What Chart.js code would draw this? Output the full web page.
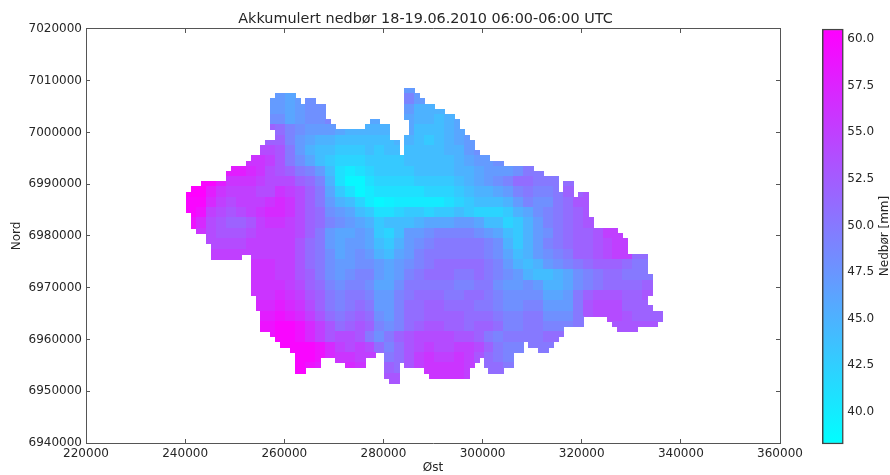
<!DOCTYPE html>
<html lang="en">

<head>
    <meta charset="UTF-8">
    <title>Akkumulert nedbør</title>
    <style>
        body { margin: 0; background: #fff; }
        canvas { position: absolute; top: 0; }
    </style>
</head>

<body>
    <canvas id="map" width="890" height="475" style="left:0"></canvas>
    <canvas id="bar" width="110" height="475" style="left:780px"></canvas>

    <script src="https://cdnjs.cloudflare.com/ajax/libs/Chart.js/4.4.1/chart.umd.js"></script>
    <script>
        const titleText = 'Akkumulert nedbør 18-19.06.2010 06:00-06:00 UTC';
        const xTitle = 'Øst';
        const yTitle = 'Nord';
        const barTitle = 'Nedbør [mm]';
        const barTicks = [40, 42.5, 45, 47.5, 50, 52.5, 55, 57.5, 60];
        const valueMin = 38.27;
        const valueMax = 60.54;

        // catchment outline: north km -> runs of east km [first, last, first, last...]
        const outlineNorth = [7008, 7007, 7006, 7005, 7004, 7003, 7002, 7001, 7000, 6999, 6998, 6997, 6996, 6995, 6994, 6993, 6992, 6991, 6990, 6989, 6988, 6987, 6986, 6985, 6984, 6983, 6982, 6981, 6980, 6979, 6978, 6977, 6976, 6975, 6974, 6973, 6972, 6971, 6970, 6969, 6968, 6967, 6966, 6965, 6964, 6963, 6962, 6961, 6960, 6959, 6958, 6957, 6956, 6955, 6954, 6953, 6952];
        const outlineRuns = [
            [284, 285],
            [258, 261, 284, 286],
            [257, 262, 264, 265, 284, 287],
            [257, 267, 284, 289],
            [257, 267, 284, 291],
            [257, 267, 284, 293],
            [257, 268, 277, 278, 285, 294],
            [257, 269, 276, 280, 285, 294],
            [258, 280, 285, 295],
            [258, 280, 284, 296],
            [256, 282, 284, 297],
            [255, 282, 284, 297],
            [255, 282, 284, 298],
            [253, 300],
            [252, 303],
            [249, 309],
            [248, 311],
            [248, 314],
            [243, 314, 316, 317],
            [241, 314, 316, 317],
            [240, 317, 319, 320],
            [240, 320],
            [240, 320],
            [240, 320],
            [241, 320],
            [241, 321],
            [241, 321],
            [242, 326],
            [244, 327],
            [244, 328],
            [245, 328],
            [245, 328],
            [245, 250, 253, 332],
            [253, 332],
            [253, 332],
            [253, 332],
            [253, 333],
            [253, 333],
            [253, 333],
            [253, 333],
            [254, 332],
            [254, 332],
            [254, 333],
            [255, 335],
            [255, 319, 325, 335],
            [255, 319, 326, 334],
            [255, 315, 327, 330],
            [257, 315],
            [258, 314],
            [259, 307, 309, 313],
            [261, 307, 311, 312],
            [262, 277, 280, 305],
            [262, 266, 270, 275, 280, 298, 300, 305],
            [262, 266, 272, 275, 280, 282, 284, 297, 300, 305],
            [262, 263, 280, 282, 288, 296, 301, 303],
            [280, 282, 289, 296],
            [281, 282]
        ];

        // rainfall in mm read per 2 km block; each row covers north km n and n+1
        const blockNorth = [7008, 7006, 7004, 7002, 7000, 6998, 6996, 6994, 6992, 6990, 6988, 6986, 6984, 6982, 6980, 6978, 6976, 6974, 6972, 6970, 6968, 6966, 6964, 6962, 6960, 6958, 6956, 6954, 6952];
        const blockFirstEast = [284, 256, 256, 256, 256, 256, 254, 252, 248, 242, 240, 240, 240, 240, 242, 244, 244, 252, 252, 252, 252, 254, 254, 254, 256, 258, 262, 262, 280];
        const blockRain = [
            [47, 47],
            [47, 47, 46, 47, 48, 48, null, null, null, null, null, null, null, null, 49, 47],
            [47, 47, 46, 47, 48, 48, null, null, null, null, null, null, null, null, 47, 45, 45, 45],
            [48, 48, 46, 47, 48, 48, 49, null, null, null, 46, 46, null, null, 46, 45, 45, 44, 45, 46],
            [52, 51, 49, 48, 47, 47, 47, 46, 45, 45, 45, 45, 45, null, 46, 44, 44, 44, 45, 46],
            [52, 52, 49, 47, 46, 45, 45, 44, 44, 44, 44, 44, 44, 45, 45, 44, 43, 44, 45, 46, 47],
            [54, 54, 53, 50, 47, 45, 44, 44, 43, 43, 43, 44, 43, 44, 44, 44, 44, 44, 44, 45, 45, 47, 48],
            [56, 56, 55, 53, 50, 48, 46, 44, 43, 42, 42, 42, 43, 43, 43, 43, 44, 44, 44, 44, 44, 45, 46, 47, 47, 48],
            [58, 58, 57, 56, 54, 53, 52, 50, 49, 47, 44, 41, 40, 41, 42, 43, 43, 43, 43, 44, 44, 44, 44, 45, 45, 46, 47, 47, 47, 48, 50, 50],
            [60, 60, 58, 56, 56, 56, 55, 54, 54, 54, 52, 51, 49, 45, 41, 39, 39, 41, 42, 42, 42, 42, 43, 43, 43, 43, 44, 45, 46, 47, 48, 49, 51, 51, 50, 50, 50, 51],
            [60.5, 60.5, 58, 56, 55, 55, 55, 54, 54, 56, 55, 54, 52, 50, 46, 43, 41, 39, 40, 41, 41, 41, 41, 41, 42, 42, 42, 43, 44, 45, 45, 46, 47, 49, 50, 49, 49, 50, 52, 52, 53],
            [60, 60, 57, 55, 54, 55, 55, 55, 56, 57, 56, 54, 52, 50, 47, 45, 44, 42, 40, 39, 39.5, 40, 40, 40, 40, 40, 41, 42, 43, 44, 44, 44, 45, 47, 49, 48, 48, 50, 51, 53, 53],
            [60, 59, 55, 54, 53, 54, 55, 56, 57, 57, 56, 54, 52, 51, 48, 47, 46, 44, 43, 41, 41, 42, 43, 43, 42, 43, 43, 44, 43, 42, 42, 42, 43, 45, 46, 48, 49, 50, 51, 52, 53],
            [59, 57, 54, 53, 52, 52, 53, 55, 56, 56, 55, 54, 52, 51, 49, 48, 47, 46, 45, 43, 44, 44, 44, 45, 46, 46, 46, 47, 47, 46, 44, 44, 42, 43, 45, 47, 49, 50, 51, 52, 53],
            [56, 54, 53, 53, 53, 54, 55, 55, 55, 55, 54, 52, 50, 47, 46, 46, 47, 46, 43, 42, 44, 47, 47, 48, 49, 49, 49, 49, 48, 47, 46, 44, 43, 45, 47, 48, 50, 51, 52, 52, 53, 55, 55],
            [54, 54, 54, 54, 55, 55, 55, 55, 55, 53, 51, 50, 47, 46, 47, 47, 46, 44, 43, 45, 47, 48, 49, 50, 50, 50, 50, 50, 49, 48, 45, 43, 45, 47, 49, 50, 51, 52, 52, 53, 54, 55, 55],
            [55, 55, 55, 55, 55, 55, 55, 55, 55, 53, 51, 50, 48, 46, 47, 48, 47, 45, 44, 46, 47, 49, 50, 50, 50, 50, 50, 50, 49, 48, 46, 44, 45, 47, 48, 49, 50, 52, 52, 53, 54, 55, 55, 51, 51],
            [56, 56, 56, 55, 55, 53, 51, 50, 48, 47, 47, 48, 48, 47, 46, 47, 48, 49, 50, 51, 51, 51, 51, 51, 50, 49, 47, 45, 44, 45, 47, 48, 49, 50, 51, 52, 52, 52, 51, 50, 50],
            [56, 56, 56, 55, 55, 53, 52, 50, 48, 47, 48, 49, 49, 47, 46, 47, 49, 50, 51, 51, 51, 50, 50, 51, 50, 49, 48, 47, 45, 44, 44, 45, 46, 48, 49, 50, 51, 51, 50, 50, 50],
            [56, 56, 56, 56, 55, 54, 52, 51, 49, 48, 49, 49, 48, 46, 46, 48, 50, 50, 50, 50, 50, 49, 49, 50, 50, 48, 47, 47, 48, 47, 45, 45, 46, 48, 49, 50, 51, 51, 51, 51, 52],
            [56, 56, 56, 57, 56, 55, 53, 52, 50, 49, 50, 50, 49, 47, 47, 49, 50, 51, 51, 51, 50, 50, 51, 51, 50, 49, 48, 48, 48, 48, 46, 46, 47, 50, 52, 53, 53, 53, 52, 52, 53],
            [57, 57, 58, 57, 56, 54, 52, 50, 49, 50, 51, 50, 47, 47, 49, 51, 51, 52, 52, 51, 51, 51, 50, 50, 49, 48, 48, 49, 49, 47, 47, 47, 50, 53, 54, 54, 54, 52, 52, 52, 52],
            [58, 58, 59, 58, 57, 55, 53, 51, 50, 51, 52, 51, 48, 47, 49, 51, 51, 52, 52, 52, 52, 51, 51, 51, 50, 49, 49, 50, 50, 48, 48, 48, 50, 53, 54, 54, 54, 53, 52, 52, 52],
            [59, 59, 60, 60, 59, 57, 55, 53, 51, 52, 53, 52, 49, 48, 49, 51, 52, 53, 53, 52, 52, 51, 52, 52, 51, 49, 49, 50, 50, 49, 49, 49, 50, null, null, null, 53, 53, 53, 53, 53],
            [59, 60, 60, 59, 57, 55, 53, 54, 54, 53, 50, 48, 50, 52, 53, 54, 54, 54, 54, 53, 53, 52, 50, 49, 50, 50, 50, 50, 51, 51],
            [60, 60, 60, 60, 59, 57, 55, 54, 55, 54, 51, 49, 51, 53, 54, 55, 54, 54, 55, 55, 54, 52, 50, 49, 49, 50, 50, 50],
            [60, 60, 59, 57, 56, 56, 55, 55, 50, 50, 51, 53, 55, 56, 55, 55, 56, 55, 53, 51, 50, 49],
            [60, 59, 58, 58, 57, 57, 56, 56, 52, 52, 51, 53, 55, 56, 56, 56, 56, 55, 53, 51, 51, 50],
            [53, 53, 54, 55, 56, 56, 56, 56, 55]
        ];

        function rainAt(east, north) {
            const row = blockNorth.indexOf(north - ((north % 2) + 2) % 2);
            const col = Math.floor((east - blockFirstEast[row]) / 2);
            return blockRain[row][col];
        }

        const cells = [];
        outlineNorth.forEach((north, r) => {
            const runs = outlineRuns[r];
            for (let j = 0; j < runs.length; j += 2) {
                for (let east = runs[j]; east <= runs[j + 1]; east++) {
                    cells.push({ x: (east + 0.8) * 1000, y: north * 1000, v: rainAt(east, north) });
                }
            }
        });

        function coolColor(v) {
            const t = Math.min(1, Math.max(0, (v - valueMin) / (valueMax - valueMin)));
            return `rgb(${Math.round(255 * t)},${Math.round(255 * (1 - t))},255)`;
        }

        // one small square per colour, chart.js draws it as the point image
        const sprites = {};
        function cellSprite(v) {
            if (!sprites[v]) {
                const c = document.createElement('canvas');
                c.width = 6;
                c.height = 6;
                const g = c.getContext('2d');
                g.fillStyle = coolColor(v);
                g.fillRect(0, 0, 6, 6);
                sprites[v] = c;
            }
            return sprites[v];
        }

        const textColor = '#262626';
        const frameColor = '#555';
        const font = { family: 'DejaVu Sans', size: 12 };
        Chart.defaults.font.family = 'DejaVu Sans';
        Chart.defaults.color = textColor;

        function frameAxis(extra) {
            return Object.assign({
                type: 'linear',
                border: { display: true, color: frameColor, width: 1 },
                grid: { drawOnChartArea: false, drawTicks: true, tickLength: -4, color: frameColor }
            }, extra);
        }

        // title sits a little left of the axes centre in the picture
        const shiftTitle = {
            id: 'shiftTitle',
            afterLayout(chart) {
                chart.titleBlock.left -= 7.5;
                chart.titleBlock.right -= 7.5;
            }
        };

        new Chart(document.getElementById('map'), {
            type: 'scatter',
            data: {
                datasets: [{
                    data: cells,
                    xAxisID: 'x',
                    yAxisID: 'y',
                    pointRadius: 3,
                    pointStyle: ctx => cellSprite(ctx.raw.v)
                }]
            },
            options: {
                responsive: false,
                animation: false,
                events: [],
                layout: { padding: { right: 110 } },
                plugins: {
                    legend: { display: false },
                    tooltip: { enabled: false },
                    title: {
                        display: true,
                        text: titleText,
                        fullSize: false,
                        color: textColor,
                        font: { size: 14.4, weight: 'normal' },
                        padding: { top: 10.4, bottom: 1.3 }
                    }
                },
                scales: {
                    x: frameAxis({
                        position: 'bottom',
                        min: 220000, max: 360000,
                        afterFit: s => { s.height = 32; },
                        title: { display: true, text: xTitle, font, padding: 0 },
                        ticks: { stepSize: 20000, font, padding: 8, maxRotation: 0, callback: v => String(v) }
                    }),
                    y: frameAxis({
                        position: 'left',
                        min: 6940000, max: 7020000,
                        afterFit: s => { s.width = 86; },
                        title: { display: true, text: yTitle, font, padding: { top: 10, bottom: 0 } },
                        ticks: { stepSize: 10000, font, padding: 8, callback: v => String(v) }
                    }),
                    xTop: frameAxis({
                        position: 'top',
                        min: 220000, max: 360000,
                        afterFit: s => { s.height = 0; },
                        ticks: { stepSize: 20000, display: false }
                    }),
                    yRight: frameAxis({
                        position: 'right',
                        min: 6940000, max: 7020000,
                        afterFit: s => { s.width = 0; },
                        ticks: { stepSize: 10000, display: false }
                    })
                }
            },
            plugins: [shiftTitle]
        });

        // the label reads upwards here, chart.js turns a right axis title the other way
        const upwardTitle = {
            id: 'upwardTitle',
            afterDraw(chart) {
                const ctx = chart.ctx;
                ctx.save();
                ctx.translate(105, 236);
                ctx.rotate(-Math.PI / 2);
                ctx.font = '12px "DejaVu Sans"';
                ctx.fillStyle = textColor;
                ctx.textAlign = 'center';
                ctx.textBaseline = 'middle';
                ctx.fillText(barTitle, 0, 0);
                ctx.restore();
            }
        };

        new Chart(document.getElementById('bar'), {
            type: 'bar',
            data: {
                labels: [''],
                datasets: [{
                    data: [[valueMin, valueMax]],
                    barPercentage: 1,
                    categoryPercentage: 1,
                    clip: false,
                    borderWidth: 1.5,
                    borderSkipped: false,
                    borderColor: '#444',
                    backgroundColor: ctx => {
                        const { chart } = ctx;
                        if (!chart.chartArea) return coolColor(valueMin);
                        const g = chart.ctx.createLinearGradient(0, chart.chartArea.bottom, 0, chart.chartArea.top);
                        g.addColorStop(0, coolColor(valueMin));
                        g.addColorStop(1, coolColor(valueMax));
                        return g;
                    }
                }]
            },
            options: {
                responsive: false,
                animation: false,
                events: [],
                layout: { padding: { left: 42.3, top: 29, bottom: 31 } },
                plugins: { legend: { display: false }, tooltip: { enabled: false } },
                scales: {
                    x: { display: false },
                    y: {
                        position: 'right',
                        min: valueMin, max: valueMax,
                        afterBuildTicks: s => { s.ticks = barTicks.map(value => ({ value })); },
                        afterFit: s => { s.width = 46.7; },
                        border: { display: false },
                        grid: { drawOnChartArea: false, tickLength: -4, color: frameColor },
                        ticks: { font, padding: 8, callback: v => v.toFixed(1) }
                    }
                }
            },
            plugins: [upwardTitle]
        });
    </script>

</body>

</html>
